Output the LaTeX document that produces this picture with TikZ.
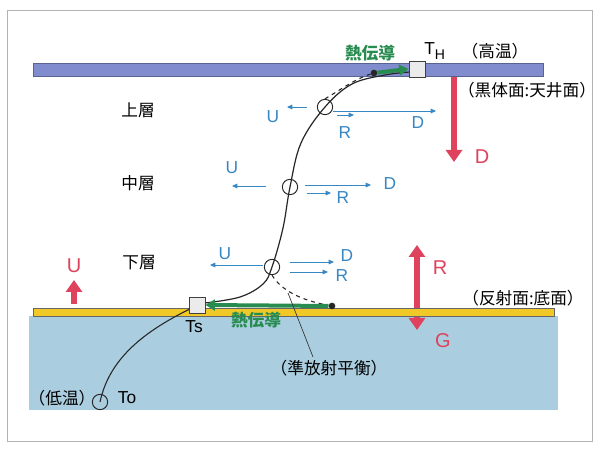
\documentclass[tikz,border=0pt]{standalone}
\usepackage{fontspec}
\setmainfont{Noto Sans CJK JP}
\newfontfamily\latinf{Liberation Sans}
\usetikzlibrary{arrows.meta}
\definecolor{bartop}{RGB}{128,140,205}
\definecolor{barbot}{RGB}{240,200,40}
\definecolor{water}{RGB}{170,206,224}
\definecolor{txtblue}{RGB}{55,135,195}
\definecolor{redarr}{RGB}{222,66,92}
\definecolor{grn}{RGB}{40,140,80}
\tikzset{
  lbl/.style={inner sep=0pt, font=\fontsize{12.5}{14}\selectfont},
  llbl/.style={inner sep=0pt, font=\latinf\fontsize{13}{14}\selectfont},
  blbl/.style={llbl, text=txtblue},
  rlbl/.style={inner sep=0pt, text=redarr, font=\latinf\fontsize{15}{16}\selectfont},
  glbl/.style={inner sep=0pt, text=grn, font=\fontsize{12.5}{14}\selectfont\bfseries},
  ring/.style={circle, draw=black!85, line width=0.7pt, minimum size=11.5pt, inner sep=0pt},
  sq/.style={rectangle, draw=black!75, fill=black!8, line width=0.7pt, minimum size=12pt, inner sep=0pt},
  dotn/.style={circle, fill=black!85, minimum size=5pt, inner sep=0pt},
  barrow/.style={draw=txtblue, line width=0.7pt, -{Triangle[length=4pt,width=3.5pt]}},
  rarrow/.style={draw=redarr, line width=4.5pt, -{Triangle[length=9pt,width=12pt]}},
  garrow/.style={draw=grn, line width=3pt, -{Triangle[length=7pt,width=8pt]}},
  curve/.style={draw=black!85, line width=0.9pt},
  dcurve/.style={draw=black!85, line width=0.8pt, dashed},
}
\begin{document}
\begin{tikzpicture}[x=0.75pt,y=-0.75pt]
\useasboundingbox (0,0) rectangle (600,452);
\fill[white] (0,0) rectangle (600,452);
\draw[black!30, line width=0.6pt] (7,10) rectangle (592,441);
% red R/G arrow (under the bar)
\coordinate (rgtop) at (417,245);
\coordinate (rgbot) at (417,330);
% water and bars
\fill[water] (29,316) rectangle (558,410);
\draw[redarr, line width=4.5pt, {Triangle[length=9pt,width=12pt]}-{Triangle[length=9pt,width=12pt]}] (rgtop) -- (rgbot);
\filldraw[fill=barbot, draw=black!60, line width=0.5pt] (33,308) rectangle (554,316);
\filldraw[fill=bartop, draw=bartop!70!black, line width=0.5pt] (33,63) rectangle (543,76);
% layer names
\node[lbl] (jo) at (138,110) {上層};
\node[lbl] (chu) at (138,183) {中層};
\node[lbl] (ka) at (139,263) {下層};
% rings and squares
\node[ring] (cU) at (325,107) {};
\node[ring] (cM) at (290,187) {};
\node[ring] (cL) at (272,267) {};
\node[ring] (To) at (100,402) {};
\node[dotn] (dotT) at (374,73) {};
\node[dotn] (dotB) at (332,306) {};
% curves
\coordinate (a1) at (240,297);
\coordinate (a2) at (263,284);
\coordinate (a3) at (283,228);
\coordinate (a4) at (301,143);
\coordinate (a5) at (352,84);
\coordinate (a6) at (385,75);
\coordinate (b1) at (410,72);
\coordinate (b0) at (205,303);
\draw[curve] plot[smooth, tension=0.6] coordinates {(b0) (a1) (a2) (cL.center) (a3) (cM.center) (a4) (cU.center) (a5) (a6) (b1)};
\draw[curve, line width=0.8pt] (To.center) .. controls (110,355) and (150,328) .. (196,306);
\draw[dcurve] (cU.north) .. controls (340,90) and (355,79) .. (dotT);
\draw[dcurve] (cL.south) .. controls (281,290) and (300,300) .. (dotB);
% squares
\node[sq] (TH) at (417,69) {};
\node[sq] (Ts) at (197,305) {};
% green conduction arrows
\draw[garrow] (dotT) -- (TH.west);
\draw[garrow] (dotB) -- (Ts.east);
\node[glbl] (netsuT) at (370,53) {熱伝導};
\node[glbl] (netsuB) at (256,320) {熱伝導};
% top labels
\node[llbl, anchor=west] (THl) at (424,51) {T\raisebox{-0.6ex}{\fontsize{10.5}{10}\selectfont H}};
\node[lbl] (koon) at (495,51) {（高温）};
\node[lbl] (kokutai) at (527,90) {（黒体面:天井面）};
\node[lbl] (hansha) at (523,298) {（反射面:底面）};
\node[llbl] (Tsl) at (194,327) {Ts};
\node[llbl] (Tol) at (127,398) {To};
\node[lbl] (teion) at (62,398) {（低温）};
\node[lbl] (jun) at (329,368) {（準放射平衡）};
\coordinate (qp) at (288,293);
\coordinate (qf) at (313,357);
\draw[black!80, line width=0.5pt] (qf) -- (qp);
% red arrows
\coordinate (dTop) at (454,77);
\coordinate (dTip) at (454,162);
\draw[rarrow] (dTop) -- (dTip);
\node[rlbl] (rD) at (482,157) {D};
\node[rlbl] (rR) at (440,268) {R};
\node[rlbl] (rG) at (443,341) {G};
\coordinate (uB) at (74,304);
\coordinate (uT) at (74,280);
\draw[rarrow] (uB) -- (uT);
\node[rlbl] (rU) at (74,266) {U};
% upper layer flux
\coordinate (uU1) at (307,107); \coordinate (uU2) at (287,107);
\draw[barrow] (uU1) -- (uU2);
\node[blbl] (uUl) at (273,117) {U};
\coordinate (uD1) at (333,111); \coordinate (uD2) at (436,111);
\draw[barrow] (uD1) -- (uD2);
\node[blbl] (uDl) at (418,123) {D};
\coordinate (uR1) at (337,115); \coordinate (uR2) at (354,115);
\draw[barrow] (uR1) -- (uR2);
\node[blbl] (uRl) at (345,133) {R};
% middle layer flux
\coordinate (mU1) at (266,186); \coordinate (mU2) at (232,186);
\draw[barrow] (mU1) -- (mU2);
\node[blbl] (mUl) at (232,168) {U};
\coordinate (mD1) at (305,185); \coordinate (mD2) at (371,185);
\draw[barrow] (mD1) -- (mD2);
\node[blbl] (mDl) at (390,184) {D};
\coordinate (mR1) at (307,193); \coordinate (mR2) at (331,193);
\draw[barrow] (mR1) -- (mR2);
\node[blbl] (mRl) at (343,198) {R};
% lower layer flux
\coordinate (lU1) at (263,265); \coordinate (lU2) at (210,265);
\draw[barrow] (lU1) -- (lU2);
\node[blbl] (lUl) at (225,254) {U};
\coordinate (lD1) at (290,262); \coordinate (lD2) at (334,262);
\draw[barrow] (lD1) -- (lD2);
\node[blbl] (lDl) at (347,256) {D};
\coordinate (lR1) at (290,272); \coordinate (lR2) at (328,272);
\draw[barrow] (lR1) -- (lR2);
\node[blbl] (lRl) at (342,276) {R};
\end{tikzpicture}
\end{document}
